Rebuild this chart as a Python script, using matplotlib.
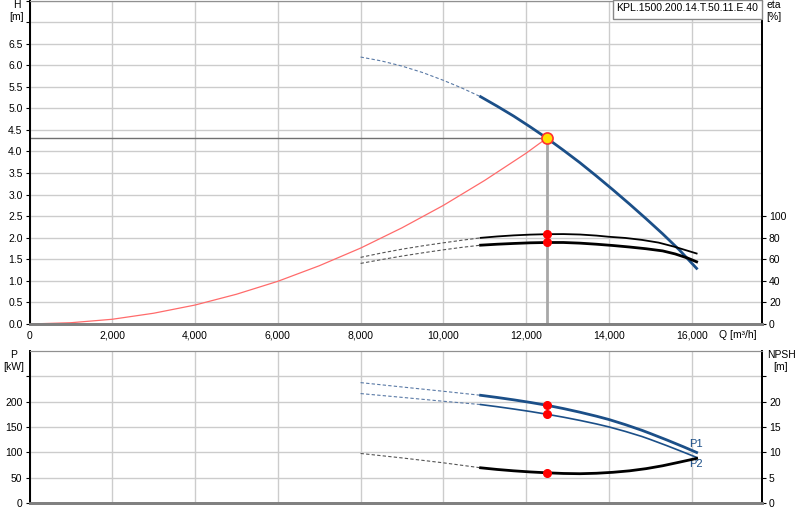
import matplotlib.pyplot as plt
from matplotlib.patches import Rectangle
from matplotlib.ticker import FuncFormatter, MultipleLocator

plt.rcParams["font.family"] = ["Liberation Sans", "DejaVu Sans"]
plt.rcParams["font.size"] = 7.5

BLUE = "#1b4f88"
GRID = "#cccccc"

# head curve H [m]
q_h_ext = [8000, 8500, 9000, 9500, 10000, 10450, 10900]
h_ext = [6.19, 6.10, 5.98, 5.83, 5.65, 5.47, 5.27]
q_h = [10900, 11300, 11700, 12100, 12500, 12900, 13300, 13700, 14100, 14500, 14900, 15300, 15700, 16120]
h = [5.27, 5.05, 4.82, 4.57, 4.31, 4.03, 3.74, 3.43, 3.11, 2.78, 2.44, 2.09, 1.72, 1.29]

# system curve
q_sys = [0, 1000, 2000, 3000, 4000, 5000, 6000, 7000, 8000, 9000, 10000, 11000, 12000, 12500]
h_sys = [0, 0.03, 0.11, 0.25, 0.44, 0.69, 0.99, 1.35, 1.76, 2.23, 2.75, 3.33, 3.96, 4.31]

# efficiency curves eta [%]
q_eta_ext = [8000, 8500, 9000, 9500, 10000, 10450, 10900]
eta1_ext = [61.8, 65.8, 69.4, 72.5, 75.3, 77.7, 79.9]
eta2_ext = [56.2, 59.7, 63.0, 66.0, 68.8, 71.1, 73.1]
q_eta1 = [10900, 11300, 11700, 12100, 12500, 12900, 13300, 13700, 14000, 14400, 14800, 15200, 15600, 16120]
eta1 = [79.9, 81.2, 82.2, 82.9, 83.3, 83.4, 83.0, 82.0, 80.9, 79.8, 78.0, 75.5, 71.5, 65.4]
q_eta2 = [10900, 11300, 11700, 12100, 12500, 12900, 13300, 13700, 14100, 14500, 14900, 15300, 15600, 15900, 16120]
eta2 = [73.1, 74.0, 74.7, 75.3, 75.6, 75.6, 75.0, 74.0, 72.8, 71.4, 69.8, 67.8, 65.0, 61.2, 57.7]

# power curves P [kW]
q_p_ext = [8000, 9000, 10000, 10900]
p1_ext = [237.6, 229.0, 220.5, 212.6]
p2_ext = [216.0, 208.5, 200.8, 194.3]
q_p = [10900, 11300, 11700, 12100, 12500, 12900, 13300, 13700, 14000, 14400, 14800, 15000, 15400, 15800, 16120]
p1 = [212.6, 208.3, 203.6, 198.5, 192.9, 186.4, 179.2, 171.3, 164.8, 154.6, 143.4, 137.2, 124.4, 111.0, 99.8]
p2 = [194.3, 190.1, 185.5, 180.6, 175.2, 169.4, 163.0, 156.0, 150.2, 141.2, 131.2, 125.4, 113.2, 100.4, 90.0]

# NPSH [m]
q_npsh_ext = [8000, 9000, 10000, 10900]
npsh_ext = [9.78, 8.9, 7.93, 6.95]
q_npsh = [10900, 11300, 11700, 12100, 12500, 12900, 13300, 13700, 14100, 14500, 14900, 15300, 15700, 16120]
npsh = [6.95, 6.62, 6.35, 6.13, 5.96, 5.83, 5.78, 5.87, 6.06, 6.35, 6.78, 7.35, 8.05, 8.8]

# operating point
q_op = 12500
h_op = 4.31
eta_op = 172.4  # the H value of the operating point on the eta scale
eta1_op, eta2_op = 83.3, 75.6
p1_op, p2_op = 192.9, 175.2
npsh_op = 5.9

pump_name = "KPL.1500.200.14.T.50.11.E.40"
x_ticks = [0, 2000, 4000, 6000, 8000, 10000, 12000, 14000, 16000]

DASH = dict(lw=0.8, ls=(0, (3, 2)))


def style_axes(ax, twin):
    ax.set_xlim(0, 17700)
    ax.set_xticks(x_ticks)
    ax.grid(True, color=GRID, lw=1.0)
    ax.set_axisbelow(True)
    for a in (ax, twin):
        a.spines["left"].set_color("black")
        a.spines["left"].set_linewidth(1.3)
        a.spines["right"].set_color("black")
        a.spines["right"].set_linewidth(1.3)
        a.spines["top"].set_color("#909090")
        a.spines["bottom"].set_color("#808080")
        a.spines["bottom"].set_linewidth(2)
    ax.tick_params(axis="y", length=3, width=0.8, pad=2)
    twin.tick_params(axis="y", length=3, width=0.8, pad=2)


def main():
    fig = plt.figure(figsize=(8, 5.2), dpi=100)

    # upper chart: H and eta
    ax = fig.add_axes([0.0369, 0.3769, 0.9156, 0.6221])
    ax_eta = ax.twinx()
    style_axes(ax, ax_eta)
    ax.set_ylim(0, 7.5)
    ax.yaxis.set_major_locator(MultipleLocator(0.5))
    ax.yaxis.set_major_formatter(FuncFormatter(lambda v, p: f"{v:.1f}" if v < 6.9 else ""))
    ax.xaxis.set_major_formatter(FuncFormatter(lambda v, p: f"{int(v):,}"))
    ax.tick_params(axis="x", length=0, pad=5)
    ax_eta.set_ylim(0, 300)
    ax_eta.set_yticks([0, 20, 40, 60, 80, 100])

    ax.plot(q_sys, h_sys, color="#ff6b6b", lw=0.9)
    ax.plot([0, q_op], [h_op, h_op], color="#707070", lw=1.0)
    ax.plot([q_op, q_op], [0, h_op], color="#a8a8a8", lw=2.0)

    ax.plot(q_h_ext, h_ext, color="#5a7aa6", **DASH)
    ax.plot(q_h, h, color=BLUE, lw=2.0)

    ax_eta.plot(q_eta_ext, eta1_ext, color="#555555", **DASH)
    ax_eta.plot(q_eta_ext, eta2_ext, color="#555555", **DASH)
    ax_eta.plot(q_eta1, eta1, color="black", lw=1.3)
    ax_eta.plot(q_eta2, eta2, color="black", lw=2.0)
    ax_eta.plot([q_op, q_op], [eta1_op, eta2_op], "o", color="red", ms=5.5, zorder=5)
    ax_eta.plot([q_op], [eta_op], "o", mfc="#ffe000", mec="#ff3030", mew=1.2, ms=8, zorder=6)

    # lower chart: P and NPSH
    ax_p = fig.add_axes([0.0369, 0.0327, 0.9156, 0.2923])
    ax_n = ax_p.twinx()
    style_axes(ax_p, ax_n)
    ax_p.set_ylim(0, 300)
    ax_p.set_yticks([0, 50, 100, 150, 200, 250])
    ax_p.set_yticklabels(["0", "50", "100", "150", "200", ""])
    ax_p.tick_params(axis="x", length=0, labelbottom=False)
    ax_n.set_ylim(0, 30)
    ax_n.set_yticks([0, 5, 10, 15, 20, 25])
    ax_n.set_yticklabels(["0", "5", "10", "15", "20", ""])

    ax_p.plot(q_p_ext, p1_ext, color="#5a7aa6", **DASH)
    ax_p.plot(q_p_ext, p2_ext, color="#5a7aa6", **DASH)
    ax_p.plot(q_p, p1, color=BLUE, lw=2.0)
    ax_p.plot(q_p, p2, color=BLUE, lw=1.2)
    ax_n.plot(q_npsh_ext, npsh_ext, color="#555555", **DASH)
    ax_n.plot(q_npsh, npsh, color="black", lw=2.0)
    ax_p.plot([q_op, q_op], [p1_op, p2_op], "o", color="red", ms=5.5, zorder=5)
    ax_n.plot([q_op], [npsh_op], "o", color="red", ms=5.5, zorder=5)
    ax_p.text(16100, 117, "P1", color=BLUE, ha="center", va="center", fontsize=8)
    ax_p.text(16100, 77, "P2", color=BLUE, ha="center", va="center", fontsize=8)

    # axis titles and pump name
    fig.text(17 / 800, 1 - 5 / 520, "H", ha="center", va="center")
    fig.text(17 / 800, 1 - 17 / 520, "[m]", ha="center", va="center")
    fig.text(774 / 800, 1 - 5 / 520, "eta", ha="center", va="center")
    fig.text(774 / 800, 1 - 17 / 520, "[%]", ha="center", va="center")
    fig.text(14 / 800, 1 - 355 / 520, "P", ha="center", va="center")
    fig.text(14 / 800, 1 - 367 / 520, "[kW]", ha="center", va="center")
    fig.text(781 / 800, 1 - 355 / 520, "NPSH", ha="center", va="center")
    fig.text(781 / 800, 1 - 367 / 520, "[m]", ha="center", va="center")
    fig.text(719 / 800, 1 - 335 / 520, "Q [m³/h]", ha="left", va="center")
    fig.patches.append(Rectangle((613 / 800, 1 - 19 / 520), 149 / 800, 19 / 520,
                                 transform=fig.transFigure, fc="white", ec="#888888", lw=1.0, zorder=10))
    fig.text(616 / 800, 1 - 8 / 520, pump_name, ha="left", va="center", fontsize=7.6, zorder=11)

    fig.savefig("out.png", dpi=100)
    plt.close(fig)


if __name__ == "__main__":
    main()
